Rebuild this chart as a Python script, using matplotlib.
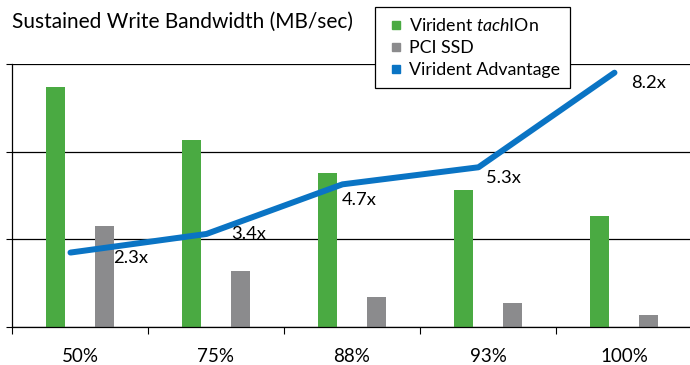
import numpy as np
import matplotlib
matplotlib.use("Agg")
import matplotlib.pyplot as plt
from matplotlib.lines import Line2D

plt.rcParams['font.family'] = ['Lato', 'DejaVu Sans']
plt.rcParams['mathtext.fontset'] = 'custom'
plt.rcParams['mathtext.it'] = 'Lato:italic'
plt.rcParams['mathtext.rm'] = 'Lato'

categories = ['50%', '75%', '88%', '93%', '100%']
tachion = [1370, 1065, 880, 780, 635]
pci_ssd = [575, 320, 170, 135, 70]
advantage = [2.4, 3.0, 4.6, 5.15, 8.2]
adv_labels = ['2.3x', '3.4x', '4.7x', '5.3x', '8.2x']

green = '#4aaa42'
gray = '#8b8b8d'
blue = '#0a74c4'

fig = plt.figure(figsize=(6.9, 3.65), dpi=100)
ax = fig.add_axes([12/690, 1 - 327/365, 680/690, 263/365])

x = np.arange(len(categories))
w = 0.14
ax.bar(x - 0.18, tachion, w, color=green, zorder=2)
ax.bar(x + 0.18, pci_ssd, w, color=gray, zorder=2)

ax.set_xlim(-0.5, len(categories) - 0.5)
ax.set_ylim(0, 1500)
ax.set_yticks([0, 500, 1000, 1500])
ax.set_yticklabels([])
ax.yaxis.grid(True, color='black', lw=0.9, zorder=0)
ax.tick_params(axis='y', length=4, width=0.8, direction='out')

ax.set_xticks(np.arange(-0.5, len(categories)), minor=False)
ax.set_xticklabels([])
ax.set_xticks(x, minor=True)
ax.set_xticklabels(categories, minor=True, fontsize=13.5)
ax.tick_params(axis='x', which='major', length=5, width=0.8)
ax.tick_params(axis='x', which='minor', length=0, pad=15)

for s in ['top', 'right']:
    ax.spines[s].set_visible(False)
for s in ['left', 'bottom']:
    ax.spines[s].set_linewidth(0.9)

ax2 = ax.twinx()
ax2.set_ylim(0, 8.48)
ax2.axis('off')
lx = x - 0.07
ax2.plot(lx, advantage, color=blue, lw=4.3, solid_capstyle='round',
         solid_joinstyle='round', zorder=3)
label_off = [(43, -5), (25, 0), (-1, -16), (8, -11), (17, -10)]
for xi, yi, t, off in zip(lx, advantage, adv_labels, label_off):
    ax2.annotate(t, (xi, yi), xytext=off, textcoords='offset pixels',
                 ha='left', va='center', fontsize=13.2)

fig.text(12/690, 1 - 22/365, 'Sustained Write Bandwidth (MB/sec)',
         ha='left', va='center', fontsize=15)

handles = [Line2D([], [], ls='', marker='s', markersize=5.5, color=c)
           for c in (green, gray, blue)]
labels = [r'Virident $\it{tach}$IOn', 'PCI SSD', 'Virident Advantage']
leg = fig.legend(handles, labels, loc='upper left',
                 bbox_to_anchor=(375/690, 1 - 7/365), borderaxespad=0,
                 fontsize=12.8, frameon=True, fancybox=False,
                 handlelength=1.3, handletextpad=0.05,
                 labelspacing=0.35, borderpad=0.55)
leg.get_frame().set_edgecolor('black')
leg.get_frame().set_linewidth(0.9)
leg.get_frame().set_alpha(1)

fig.savefig('out.png', dpi=100)
